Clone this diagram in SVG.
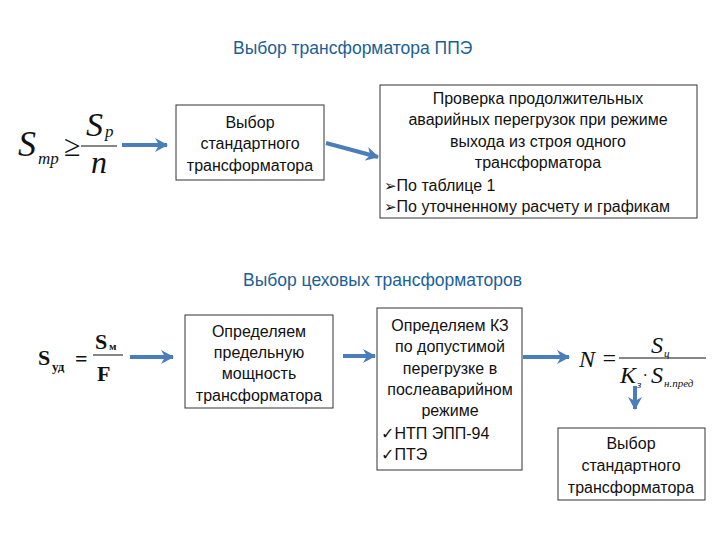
<svg xmlns="http://www.w3.org/2000/svg" width="720" height="540" viewBox="0 0 720 540">
<defs>
<marker id="ah" markerUnits="userSpaceOnUse" markerWidth="14" markerHeight="14" viewBox="0 0 14 14" refX="12" refY="7" orient="auto">
<path d="M0,0 L13,7 L0,14 L4,7 Z" fill="#4a7ebb"/>
</marker>
<style>
.box{fill:#fff;stroke:#333;stroke-width:1}
.t{font-family:"Liberation Sans",Arial,sans-serif;font-size:16px;fill:#111;text-anchor:middle}
.tl{font-family:"Liberation Sans",Arial,sans-serif;font-size:16px;fill:#111}
.b{font-family:"DejaVu Sans",sans-serif;font-weight:bold}
.h{font-family:"Liberation Sans",Arial,sans-serif;font-size:17.5px;fill:#1c5f96}
.m{font-family:"Liberation Serif","Times New Roman",serif;font-style:italic;fill:#111}
.mb{font-family:"Liberation Serif","Times New Roman",serif;font-weight:bold;fill:#111}
.c{fill:none;stroke:#4a7ebb;stroke-width:4;marker-end:url(#ah)}
</style>
</defs>
<rect width="720" height="540" fill="#fff"/>
<text class="h" x="233" y="54">Выбор трансформатора ППЭ</text>
<text class="h" x="243" y="286" font-size="18.5">Выбор цеховых трансформаторов</text>

<g id="formula1">
<text class="m" x="18" y="156" font-size="36">S</text>
<text class="m" x="38" y="164" font-size="17">тр</text>
<text class="m" x="64" y="156" font-size="30" font-style="normal">≥</text>
<line x1="81" y1="146" x2="117" y2="146" stroke="#111" stroke-width="1.2"/>
<text class="m" x="86" y="136" font-size="34">S</text>
<text class="m" x="105" y="137" font-size="17">p</text>
<text class="m" x="91" y="173" font-size="32">n</text>
</g>

<g id="box1">
<rect class="box" x="176" y="105" width="148" height="75"/>
<text class="t" x="250" y="128" font-size="17.5">Выбор</text>
<text class="t" x="250" y="149" font-size="17.5">стандартного</text>
<text class="t" x="250" y="171" font-size="17.5">трансформатора</text>
</g>

<g id="box2">
<rect class="box" x="380" y="85" width="317" height="133"/>
<text class="t" x="538" y="104" font-size="16.5">Проверка продолжительных</text>
<text class="t" x="538" y="125" font-size="16.5">аварийных перегрузок при режиме</text>
<text class="t" x="538" y="147" font-size="16.5">выхода из строя одного</text>
<text class="t" x="538" y="168" font-size="16.5">трансформатора</text>
<text class="tl" x="384" y="191" font-size="16.5"><tspan class="b" font-size="15">➢</tspan>По таблице 1</text>
<text class="tl" x="384" y="212" font-size="16.5"><tspan class="b" font-size="15">➢</tspan>По уточненному расчету и графикам</text>
</g>

<g id="formula2">
<text class="mb" x="38" y="365" font-size="22">S</text>
<text class="mb" x="52" y="371" font-size="13">уд</text>
<text class="mb" x="75" y="366" font-size="22">=</text>
<line x1="93" y1="355" x2="123" y2="355" stroke="#111" stroke-width="1"/>
<text class="mb" x="95" y="349" font-size="22">S</text>
<text class="mb" x="109" y="350" font-size="11">м</text>
<text class="mb" x="97" y="381" font-size="22">F</text>
</g>

<g id="box3">
<rect class="box" x="185" y="315" width="148" height="93"/>
<text class="t" x="259" y="337">Определяем</text>
<text class="t" x="259" y="358">предельную</text>
<text class="t" x="259" y="379">мощность</text>
<text class="t" x="259" y="401">трансформатора</text>
</g>

<g id="box4">
<rect class="box" x="377" y="308" width="145" height="162"/>
<text class="t" x="450" y="331" font-size="15.5">Определяем КЗ</text>
<text class="t" x="450" y="352" font-size="15.5">по допустимой</text>
<text class="t" x="450" y="374" font-size="15.5">перегрузке в</text>
<text class="t" x="450" y="395" font-size="15.5">послеаварийном</text>
<text class="t" x="450" y="416" font-size="15.5">режиме</text>
<text class="tl" x="381" y="439" font-size="18"><tspan class="b" font-size="16">✓</tspan>НТП ЭПП-94</text>
<text class="tl" x="381" y="460" font-size="18"><tspan class="b" font-size="16">✓</tspan>ПТЭ</text>
</g>

<g id="formula3">
<text class="m" x="579" y="367" font-size="24">N</text>
<text class="m" x="601" y="366" font-size="24" font-style="normal">=</text>
<line x1="619" y1="358" x2="706" y2="358" stroke="#111" stroke-width="1"/>
<text class="m" x="651" y="353" font-size="24">S</text>
<text class="m" x="664" y="357" font-size="11">ц</text>
<text class="m" x="620" y="383" font-size="24">K</text>
<text class="m" x="637" y="388" font-size="11">з</text>
<text class="m" x="643" y="381" font-size="16" font-style="normal">·</text>
<text class="m" x="651" y="383" font-size="24">S</text>
<text class="m" x="664" y="387" font-size="11">н.пред</text>
</g>

<g id="box5">
<rect class="box" x="558" y="428" width="147" height="72"/>
<text class="t" x="631" y="449">Выбор</text>
<text class="t" x="631" y="471">стандартного</text>
<text class="t" x="631" y="493">трансформатора</text>
</g>

<g id="connectors">
<line class="c" x1="122" y1="145" x2="167" y2="145"/>
<line class="c" x1="326" y1="143" x2="378" y2="157"/>
<line class="c" x1="130" y1="357" x2="173" y2="357"/>
<line class="c" x1="343" y1="356" x2="375" y2="356"/>
<line class="c" x1="523" y1="357" x2="569" y2="357"/>
<line class="c" x1="635" y1="386" x2="635" y2="409"/>
</g>
</svg>
